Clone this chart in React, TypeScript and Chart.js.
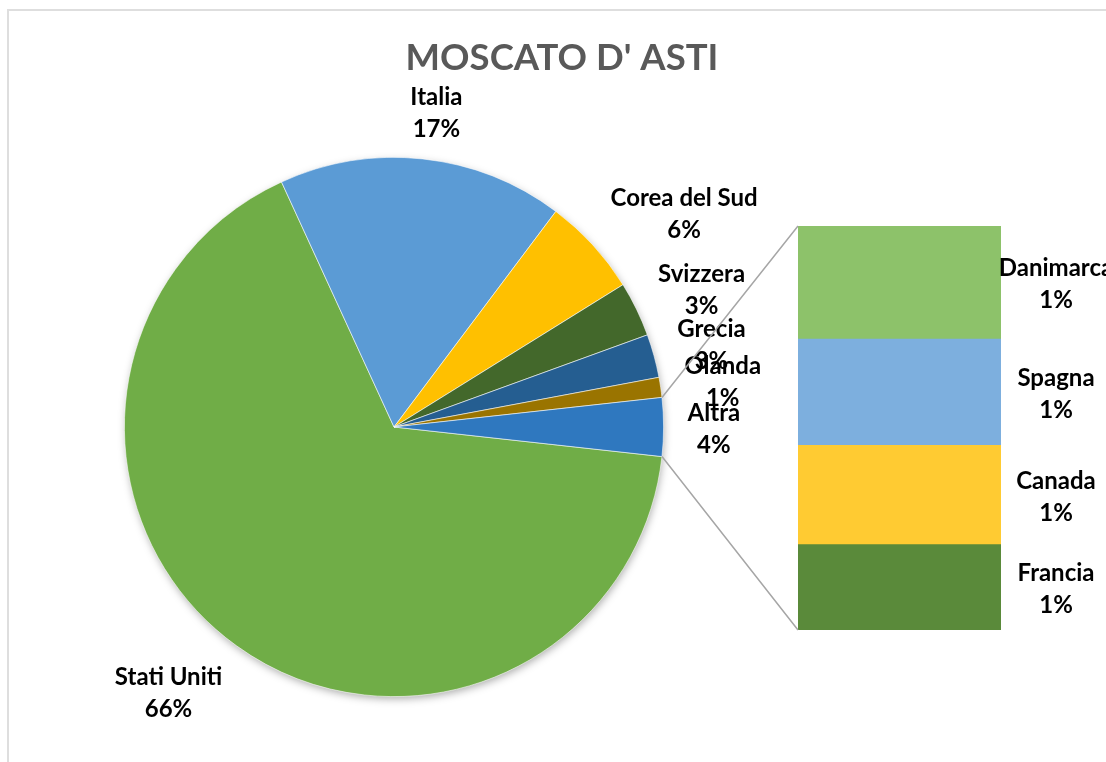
import React, { useEffect, useRef } from "react";
import { Chart, registerables } from "chart.js";

Chart.register(...registerables);

const titleText = "MOSCATO D' ASTI";
const mainLabels = ["Stati Uniti", "Italia", "Corea del Sud", "Svizzera", "Grecia", "Olanda"];
const mainValues = [66.4, 17.1, 5.9, 3.3, 2.6, 1.2];
const mainColors = ["#70AD47", "#5B9BD5", "#FFC000", "#43682B", "#255E91", "#9A7400"];
const otherLabel = "Altra";
const otherColor = "#2F78BF";
const otherLabels = ["Danimarca", "Spagna", "Canada", "Francia"];
const otherValues = [0.98, 0.92, 0.86, 0.74];
const otherColors = ["#8DC26A", "#7DAFDE", "#FFCB32", "#5A8A3A"];

const W = 1106;
const H = 762;
const FONT = "Lato, 'Open Sans', sans-serif";
const LABEL_FONT = `bold 24px ${FONT}`;
const LINE_GAP = 32;

export default function App() {
  const pieRef = useRef<HTMLCanvasElement>(null);
  const barRef = useRef<HTMLCanvasElement>(null);

  useEffect(() => {
    const otherSum = otherValues.reduce((a, b) => a + b, 0);
    const total = mainValues.reduce((a, b) => a + b, 0) + otherSum;
    const pieLabels = [...mainLabels, otherLabel];
    const pieValues = [...mainValues, otherSum];
    const pieColors = [...mainColors, otherColor];
    const rotation = 90 + ((otherSum / total) * 360) / 2;
    const pct = (v: number) => Math.round((v / total) * 100) + "%";

    const drawLabel = (ctx: CanvasRenderingContext2D, cx: number, cy: number, l1: string, l2: string) => {
      ctx.fillText(l1, cx, cy - LINE_GAP / 2 + 2);
      ctx.fillText(l2, cx, cy + LINE_GAP / 2 + 2);
    };

    const piePlugin = {
      id: "piePlugin",
      beforeDatasetsDraw(chart: any) {
        const ctx = chart.ctx;
        const arc = chart.getDatasetMeta(0).data[0];
        if (!arc) return;
        ctx.save();
        ctx.shadowColor = "rgba(0,0,0,0.35)";
        ctx.shadowBlur = 9;
        ctx.shadowOffsetX = 1;
        ctx.shadowOffsetY = 3;
        ctx.fillStyle = "#ffffff";
        ctx.beginPath();
        ctx.arc(arc.x, arc.y, arc.outerRadius - 1, 0, Math.PI * 2);
        ctx.fill();
        ctx.restore();
      },
      afterDraw(chart: any) {
        const ctx = chart.ctx;
        ctx.save();
        ctx.fillStyle = "#595959";
        ctx.font = `bold 36.5px ${FONT}`;
        ctx.textAlign = "center";
        ctx.textBaseline = "middle";
        ctx.fillText(titleText, 562, 58);
        ctx.font = LABEL_FONT;
        ctx.fillStyle = "#000000";
        const meta = chart.getDatasetMeta(0);
        const gx = 24;
        meta.data.forEach((arc: any, i: number) => {
          const mid = (arc.startAngle + arc.endAngle) / 2;
          const l1 = pieLabels[i];
          const l2 = pct(pieValues[i]);
          const w = Math.max(ctx.measureText(l1).width, ctx.measureText(l2).width);
          const h = LINE_GAP * 2;
          const c = Math.cos(mid);
          const s = Math.sin(mid);
          const gy = s < 0 ? 16 : 24;
          const px = arc.x + c * arc.outerRadius;
          const py = arc.y + s * arc.outerRadius;
          const k = Math.max(-1, Math.min(1, c * 4));
          const cx = px + k * (w / 2) + c * gx;
          const cy = py + s * (h / 2 + gy);
          drawLabel(ctx, cx, cy, l1, l2);
        });
        ctx.restore();
      },
    };

    const pie = new Chart(pieRef.current!, {
      type: "pie",
      data: {
        labels: pieLabels,
        datasets: [
          {
            data: pieValues,
            backgroundColor: pieColors,
            borderColor: "rgba(255,255,255,0.7)",
            borderWidth: 0.8,
          },
        ],
      },
      options: {
        responsive: false,
        animation: false,
        rotation,
        layout: { padding: { left: 124, right: 442, top: 157, bottom: 65 } },
        plugins: { legend: { display: false }, tooltip: { enabled: false } },
      },
      plugins: [piePlugin],
    });

    const barPlugin = {
      id: "barPlugin",
      afterDraw(chart: any) {
        const ctx = chart.ctx;
        ctx.save();
        const arc = pie.getDatasetMeta(0).data[pieValues.length - 1] as any;
        const area = chart.chartArea;
        if (arc) {
          const x1 = arc.x + Math.cos(arc.startAngle) * arc.outerRadius;
          const y1 = arc.y + Math.sin(arc.startAngle) * arc.outerRadius;
          const x2 = arc.x + Math.cos(arc.endAngle) * arc.outerRadius;
          const y2 = arc.y + Math.sin(arc.endAngle) * arc.outerRadius;
          ctx.strokeStyle = "#A6A6A6";
          ctx.lineWidth = 1.5;
          ctx.beginPath();
          ctx.moveTo(x1, y1);
          ctx.lineTo(area.left, area.top);
          ctx.moveTo(x2, y2);
          ctx.lineTo(area.left, area.bottom);
          ctx.stroke();
        }
        ctx.font = LABEL_FONT;
        ctx.fillStyle = "#000000";
        ctx.textAlign = "center";
        ctx.textBaseline = "middle";
        chart.data.datasets.forEach((ds: any, di: number) => {
          const el = chart.getDatasetMeta(di).data[0] as any;
          if (!el) return;
          const cy = (el.y + el.base) / 2;
          drawLabel(ctx, area.right + 55, cy, ds.label, pct(ds.data[0]));
        });
        ctx.restore();
      },
    };

    const order = otherLabels.map((_, i) => i).reverse();
    const bar = new Chart(barRef.current!, {
      type: "bar",
      data: {
        labels: [otherLabel],
        datasets: order.map((i) => ({
          label: otherLabels[i],
          data: [otherValues[i]],
          backgroundColor: otherColors[i],
          borderWidth: 0,
          barPercentage: 1,
          categoryPercentage: 1,
        })),
      },
      options: {
        responsive: false,
        animation: false,
        layout: { padding: { left: 798, right: 105, top: 226, bottom: 132 } },
        scales: {
          x: { stacked: true, display: false },
          y: { stacked: true, display: false, min: 0, max: otherSum },
        },
        plugins: { legend: { display: false }, tooltip: { enabled: false } },
      },
      plugins: [barPlugin],
    });

    return () => {
      bar.destroy();
      pie.destroy();
    };
  }, []);

  return (
    <div
      style={{
        position: "fixed",
        left: 0,
        top: 0,
        width: W,
        height: H,
        overflow: "hidden",
        background: "#ffffff",
      }}
    >
      <div
        style={{
          position: "absolute",
          left: 7,
          top: 9,
          width: W + 20,
          height: H + 20,
          borderLeft: "2px solid #DEDEDE",
          borderTop: "2px solid #DEDEDE",
        }}
      />
      <canvas ref={pieRef} width={W} height={H} style={{ position: "absolute", left: 0, top: 0 }} />
      <canvas ref={barRef} width={W} height={H} style={{ position: "absolute", left: 0, top: 0 }} />
    </div>
  );
}
